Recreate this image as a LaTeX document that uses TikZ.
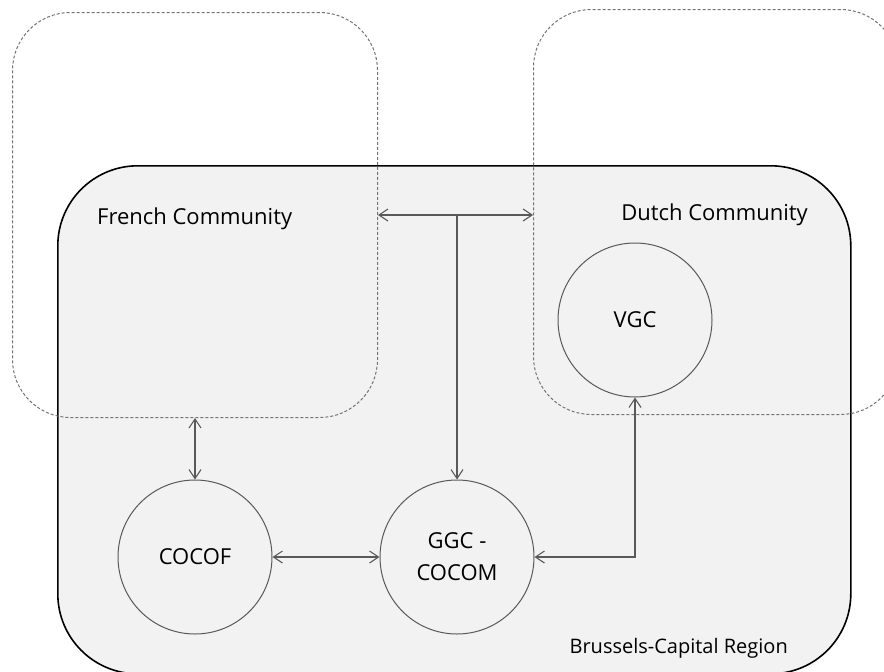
\documentclass[tikz,border=0pt]{standalone}
\usepackage{fontspec}
\setmainfont{Open Sans}
\usetikzlibrary{arrows.meta, positioning, calc}

\begin{document}
\begin{tikzpicture}[
    x=1pt, y=-1pt,
    >={Straight Barb[length=9pt, width=12pt]},
    region/.style={draw=black, line width=1.6pt, fill=black!5, rectangle, rounded corners=80pt, minimum width=793pt, minimum height=508pt, inner sep=0pt, anchor=north west},
    community/.style={draw=black!55, dash pattern=on 3pt off 2pt, line width=1pt, rectangle, rounded corners=58pt, minimum width=365pt, minimum height=405pt, inner sep=0pt, anchor=north west},
    body/.style={draw=black!65, line width=1pt, circle, minimum size=154pt, inner sep=0pt, align=center, font=\fontsize{22}{32}\selectfont},
    heading/.style={inner sep=0pt, font=\fontsize{22}{26}\selectfont},
    link/.style={draw=black!65, line width=1.1pt}
  ]
  \clip (0,0) rectangle (884,672);

  % --- gewest en gemeenschappen ---
  \node[region] (bru) at (57,165) {};
  \node[community] (french) at (12,12) {};
  \node[community] (dutch) at (533,9) {};

  \node[heading, anchor=base west] (frlbl) at (97,224) {French Community};
  \node[heading, anchor=base east] (nllbl) at (808,220) {Dutch Community};
  \node[heading, anchor=base east, font=\fontsize{20}{24}\selectfont] (brulbl) at (788,653) {Brussels-Capital Region};

  % --- instellingen ---
  \node[body] (cocof) at (195,557) {COCOF};
  \node[body] (ggc)   at (457,557) {GGC -\\COCOM};
  \node[body] (vgc)   at (635,320) {VGC};

  % --- verbindingen ---
  \coordinate (split) at (ggc.north |- french.east);
  \draw[link,<->] (french.east) -- (french.east -| dutch.west);
  \draw[link,->] (split) -- (ggc.north);
  \draw[link,<->] (french.south) -- (cocof.north);
  \draw[link,<->] (cocof.east) -- (ggc.west);
  \draw[link,<->] (ggc.east) -| (vgc.south);
\end{tikzpicture}
\end{document}
